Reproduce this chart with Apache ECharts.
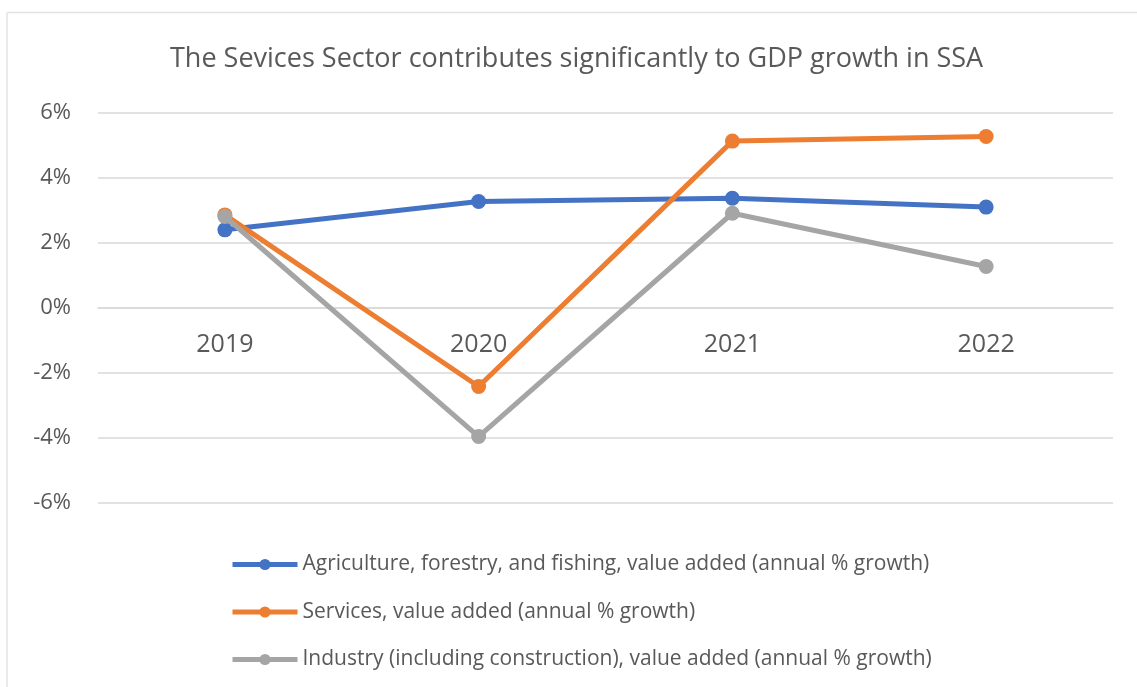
<!DOCTYPE html>
<html>
<head>
<meta charset="utf-8">
<script src="https://cdn.jsdelivr.net/npm/echarts@6/dist/echarts.min.js"></script>
<style>
html,body{margin:0;padding:0;background:#fff;}
#chart{width:1137px;height:687px;}
</style>
</head>
<body>
<div id="chart"></div>
<script>
var categories = ['2019', '2020', '2021', '2022'];
var agriculture = [2.39, 3.26, 3.36, 3.09];
var services = [2.85, -2.43, 5.12, 5.26];
var industry = [2.80, -3.97, 2.90, 1.26];
var seriesNames = [
  'Agriculture, forestry, and fishing, value added (annual % growth)',
  'Services, value added (annual % growth)',
  'Industry (including construction), value added (annual % growth)'
];
var colors = ['#4472C4', '#ED7D31', '#A5A5A5'];
var FONT = '"Open Sans", "Noto Sans", sans-serif';

var chart = echarts.init(document.getElementById('chart'), null, {renderer: 'canvas'});
function mkSeries(name, data, color) {
  return {
    name: name, type: 'line', data: data,
    symbol: 'circle', symbolSize: 15, showAllSymbol: true,
    lineStyle: {color: color, width: 5},
    itemStyle: {color: color},
    emphasis: {disabled: true}
  };
}
chart.setOption({
  animation: false,
  backgroundColor: '#fff',
  graphic: [
    {type: 'line', shape: {x1: 7, y1: 12.5, x2: 1137, y2: 12.5}, style: {stroke: '#e3e3e3', lineWidth: 1.5}, silent: true},
    {type: 'line', shape: {x1: 7, y1: 12.5, x2: 7, y2: 687}, style: {stroke: '#e3e3e3', lineWidth: 1.5}, silent: true}
  ],
  title: {
    text: 'The Sevices Sector contributes significantly to GDP growth in SSA',
    left: 165, top: 41,
    textStyle: {fontFamily: FONT, fontSize: 27, fontWeight: 'normal', color: '#595959'}
  },
  legend: {
    orient: 'vertical', left: 225, top: 549,
    itemWidth: 65, itemHeight: 14, itemGap: 26.5,
    lineStyle: {width: 5},
    textStyle: {fontFamily: FONT, fontSize: 21, color: '#595959'},
    data: seriesNames
  },
  grid: {left: 98, right: 24, top: 112.5, bottom: 184.5, containLabel: false},
  xAxis: {
    type: 'category', data: categories, boundaryGap: true,
    offset: -195,
    axisLine: {show: true, onZero: false, lineStyle: {color: '#d9d9d9', width: 1.5}},
    axisTick: {show: false},
    axisLabel: {fontFamily: FONT, fontSize: 25, color: '#595959', margin: 25}
  },
  yAxis: {
    type: 'value', min: -6, max: 6, interval: 2,
    axisLine: {show: false}, axisTick: {show: false},
    splitLine: {lineStyle: {color: '#d9d9d9', width: 1.5}},
    axisLabel: {fontFamily: FONT, fontSize: 22, color: '#595959', margin: 27, formatter: '{value}%'}
  },
  series: [
    mkSeries(seriesNames[0], agriculture, colors[0]),
    mkSeries(seriesNames[1], services, colors[1]),
    mkSeries(seriesNames[2], industry, colors[2])
  ]
});
</script>
</body>
</html>
